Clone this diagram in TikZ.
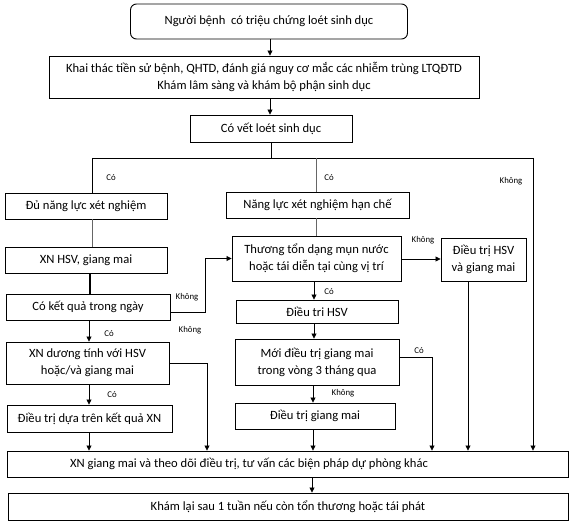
\documentclass[tikz,border=0pt]{standalone}
\usepackage{fontspec}
\setmainfont{Carlito}
\usetikzlibrary{arrows.meta}
\begin{document}
\begin{tikzpicture}[x=1pt,y=-1pt,
  bx/.style={draw, line width=0.9pt, inner sep=0pt, align=center, font=\fontsize{12.6}{17}\selectfont},
  txt/.style={inner sep=0pt, align=center, font=\fontsize{12.6}{17}\selectfont},
  lbl/.style={font=\fontsize{8.8}{10}\selectfont, inner sep=0pt},
  ln/.style={line width=0.8pt},
  lnthin/.style={line width=0.6pt, black!60},
  ar/.style={line width=0.8pt, -{Triangle[length=5pt,width=5pt]}}]
\fill[white] (0,0) rectangle (576,529);
\useasboundingbox (0,0) rectangle (576,529);

% boxes
\node[bx, rounded corners=6pt, minimum width=277pt, minimum height=35pt] (n1) at (269,21.5) {Người bệnh\ \ có triệu chứng loét sinh dục};
\node[bx, minimum width=430pt, minimum height=42pt] (n2) at (264,77) {Khai thác tiền sử bệnh, QHTD, đánh giá nguy cơ mắc các nhiễm trùng LTQĐTD\\Khám lâm sàng và khám bộ phận sinh dục};
\node[bx, minimum width=162pt, minimum height=27pt] (n3) at (271,128.5) {Có vết loét sinh dục};
\node[bx, minimum width=162pt, minimum height=26pt] (n4) at (86,206) {Đủ năng lực xét nghiệm};
\node[bx, minimum width=183pt, minimum height=26pt] (n5) at (317.5,205) {Năng lực xét nghiệm hạn chế};
\node[bx, minimum width=162pt, minimum height=26pt] (n6) at (86,260) {XN HSV, giang mai};
\node[bx, minimum width=164pt, minimum height=26pt] (n7) at (88,307) {Có kết quả trong ngày};
\node[bx, minimum width=163pt, minimum height=42pt] (n8) at (87.5,363) {XN dương tính với HSV\\hoặc/và giang mai};
\node[bx, minimum width=165pt, minimum height=27pt] (n9) at (89.5,418.5) {Điều trị dựa trên kết quả XN};
\node[bx, minimum width=169pt, minimum height=45pt] (n10) at (316.5,258.5) {Thương tổn dạng mụn nước\\hoặc tái diễn tại cùng vị trí};
\node[bx, minimum width=85pt, minimum height=43pt] (n11) at (483.5,259.5) {Điều trị HSV\\và giang mai};
\node[bx, minimum width=162pt, minimum height=23pt] (n12) at (317,311.5) {Điều tri HSV};
\node[bx, minimum width=164pt, minimum height=46pt] (n13) at (317,362) {Mới điều trị giang mai\\trong vòng 3 tháng qua};
\node[bx, minimum width=160pt, minimum height=26pt] (n14) at (315,416) {Điều trị giang mai};
\node[bx, minimum width=561pt, minimum height=26pt] (n15) at (287.5,464) {};
\node[txt] (t15) at (249,464) {XN giang mai và theo dõi điều trị, tư vấn các biện pháp dự phòng khác};
\node[bx, minimum width=560pt, minimum height=27pt] (n16) at (288,506.5) {Khám lại sau 1 tuần nếu còn tổn thương hoặc tái phát};

% branch coordinates
\coordinate (bm) at (271,158);
\coordinate (bl) at (92,158);
\coordinate (bc) at (316,158);
\coordinate (br) at (533,158);

% connectors
\draw[ar] (n1.south -| 270,0) -- (n2.north -| 270,0);
\draw[ar] (n2.south -| 270,0) -- (n3.north -| 270,0);
\draw[ln] (n3.south) -- (bm);
\draw[ln] (bl) -- (br);
\draw[ln] (bl) -- (n4.north -| bl);
\draw[lnthin] (bc) -- (n5.north -| bc);
\draw[ar] (br) -- (n15.north -| br);

\draw[lnthin] (n4.south -| 92,0) -- (n6.north -| 92,0);
\draw[line width=1.3pt] (n6.south -| 90,0) -- (n7.north -| 90,0);
\draw[ar] (n7.east |- 0,312) -- (205,312) -- (205,258.5) -- (n10.west);
\draw[ar] (n7.south -| 89,0) -- (n8.north -| 89,0);
\draw[ar] (n8.east) -- (207,363) -- (n15.north -| 207,0);
\draw[ar] (n8.south -| 89,0) -- (n9.north -| 89,0);
\draw[ar] (n9.south -| 89,0) -- (n15.north -| 89,0);

\draw[lnthin] (n5.south -| 316,0) -- (n10.north -| 316,0);
\draw[ar] (n10.east |- 0,259) -- (n11.west |- 0,259);
\draw[ar] (n11.south -| 468,0) -- (n15.north -| 468,0);
\draw[ar] (n10.south -| 314,0) -- (n12.north -| 314,0);
\draw[ar] (n12.south -| 314,0) -- (n13.north -| 314,0);
\draw[ar] (n13.east |- 0,357) -- (432,357) -- (n15.north -| 432,0);
\draw[ar] (n13.south -| 313,0) -- (n14.north -| 313,0);
\draw[ar] (n14.south -| 313,0) -- (n15.north -| 313,0);
\draw[ar] (n15.south -| 312,0) -- (n16.north -| 312,0);

% labels
\node[lbl] at (111,178) {Có};
\node[lbl] at (329,178) {Có};
\node[lbl] at (511,181) {Không};
\node[lbl] at (187,297) {Không};
\node[lbl] at (190,330) {Không};
\node[lbl] at (109,334) {Có};
\node[lbl] at (112,395) {Có};
\node[lbl] at (423,240) {Không};
\node[lbl] at (329,292) {Có};
\node[lbl] at (419,351) {Có};
\node[lbl] at (343,393) {Không};
\end{tikzpicture}
\end{document}
